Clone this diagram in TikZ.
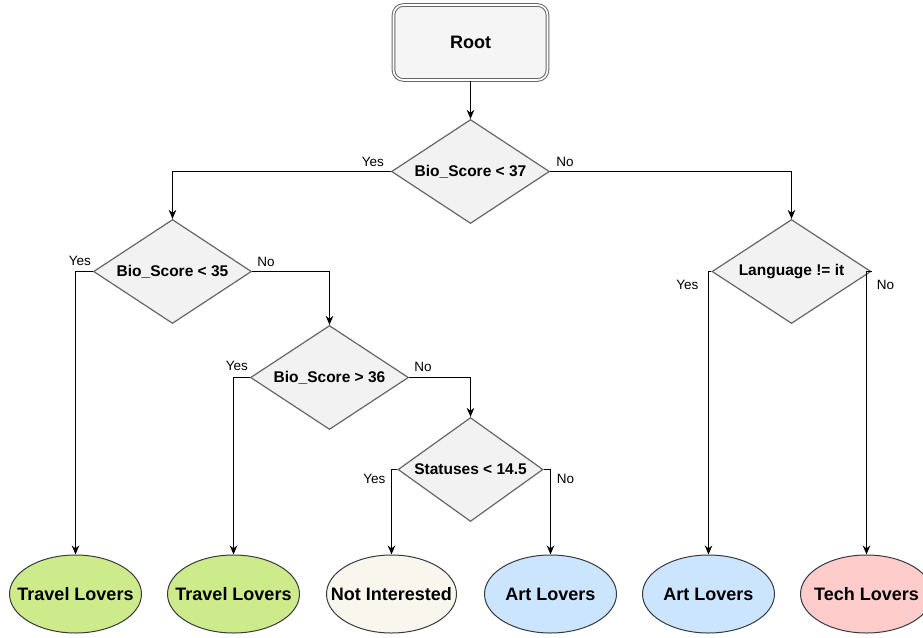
\documentclass[tikz,border=0pt]{standalone}
\usepackage{fontspec}
\setmainfont{Liberation Sans}
\usetikzlibrary{shapes.geometric,arrows.meta,calc}
\definecolor{dstroke}{HTML}{666666}
\definecolor{dfill}{HTML}{F2F2F2}
\definecolor{rfill}{HTML}{F5F5F5}
\definecolor{estroke}{HTML}{36393D}
\definecolor{cgreen}{HTML}{CDEB8B}
\definecolor{cbeige}{HTML}{F9F7ED}
\definecolor{cblue}{HTML}{CCE5FF}
\definecolor{cpink}{HTML}{FFCCCC}
\begin{document}
\begin{tikzpicture}[x=1pt,y=-1pt,
  rootbox/.style={rectangle, rounded corners=10pt, draw=dstroke, fill=rfill, line width=1pt,
    double=white, double distance=1.6pt, minimum width=154pt, minimum height=75pt, inner sep=0pt,
    font=\fontsize{18}{21}\selectfont\bfseries},
  dec/.style={diamond, draw=dstroke, fill=dfill, line width=1.2pt, inner sep=0pt,
    minimum width=158pt, minimum height=104pt, font=\fontsize{15.5}{18}\selectfont\bfseries},
  leaf/.style={ellipse, draw=estroke, line width=1pt, inner sep=0pt,
    minimum width=132pt, minimum height=78pt, font=\fontsize{18}{21}\selectfont\bfseries},
  conn/.style={draw=black, line width=1.4pt, -{Stealth[length=9pt,width=7.5pt]}},
  lbl/.style={font=\fontsize{13.5}{16}\selectfont, inner sep=0pt}
]
\useasboundingbox (0,0) rectangle (923,637);
\clip (0,0) rectangle (923,637);

\node[rootbox] (root) at (470.5,42.5) {\makebox[0pt]{Root}};
\node[dec] (d1) at (470.5,171.5) {\makebox[0pt]{Bio\_Score < 37}};
\node[dec] (d2) at (172.5,271.5) {\makebox[0pt]{Bio\_Score < 35}};
\node[dec] (d3) at (329.5,377.5) {\makebox[0pt]{Bio\_Score > 36}};
\node[dec, minimum width=145pt] (d4) at (470.5,469.5) {\makebox[0pt]{Statuses < 14.5}};
\node[dec, minimum width=159pt] (lg) at (791.5,271.5) {\makebox[0pt]{Language != it}};

\node[leaf, fill=cgreen] (e1) at (75.5,594) {\makebox[0pt]{Travel Lovers}};
\node[leaf, fill=cgreen] (e2) at (233.5,594) {\makebox[0pt]{Travel Lovers}};
\node[leaf, fill=cbeige, minimum width=130pt] (e3) at (391.5,594) {\makebox[0pt]{Not Interested}};
\node[leaf, fill=cblue] (e4) at (550.5,594) {\makebox[0pt]{Art Lovers}};
\node[leaf, fill=cblue] (e5) at (708.5,594) {\makebox[0pt]{Art Lovers}};
\node[leaf, fill=cpink] (e6) at (866.5,594) {\makebox[0pt]{Tech Lovers}};

\draw[conn] (root.south) -- (d1.north);
\draw[conn] (d1.west) -| (d2.north);
\draw[conn] (d1.east) -| (lg.north);
\draw[conn] (d2.west) -| (e1.north);
\draw[conn] (d2.east) -| (d3.north);
\draw[conn] (d3.west) -| (e2.north);
\draw[conn] (d3.east) -| (d4.north);
\draw[conn] (d4.west) -| (e3.north);
\draw[conn] (d4.east) -| (e4.north);
\draw[conn] (lg.west) -| (e5.north);
\draw[conn] (lg.east) -| (e6.north);

\node[lbl] (y1) at ($(d1.west)+(-18,-10)$) {Yes};
\node[lbl] (n1) at ($(d1.east)+(15,-10)$) {No};
\node[lbl] (y2) at ($(d2.west)+(-13,-11)$) {Yes};
\node[lbl] (n2) at ($(d2.east)+(14,-10)$) {No};
\node[lbl] (y3) at ($(d3.west)+(-13,-12)$) {Yes};
\node[lbl] (n3) at ($(d3.east)+(14,-11)$) {No};
\node[lbl] (y4) at ($(d4.west)+(-23,9)$) {Yes};
\node[lbl] (n4) at ($(d4.east)+(22,9)$) {No};
\node[lbl] (y5) at ($(lg.west)+(-24,13)$) {Yes};
\node[lbl] (n5) at ($(lg.east)+(14,13)$) {No};
\end{tikzpicture}
\end{document}
